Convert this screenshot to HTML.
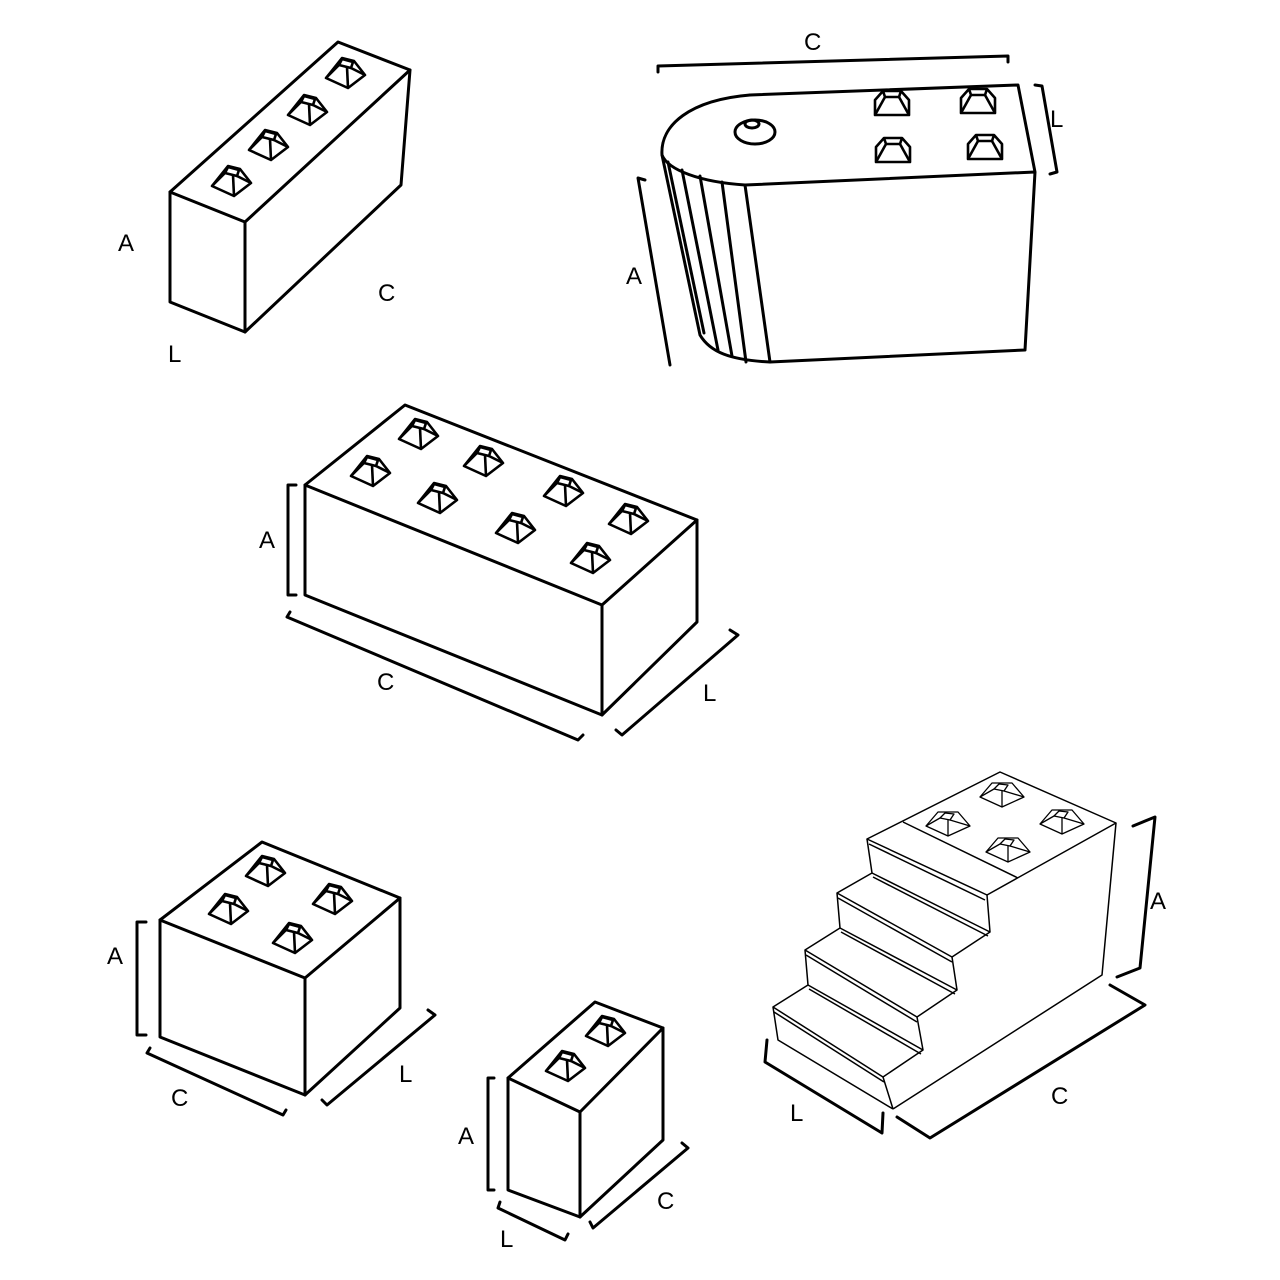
<!DOCTYPE html>
<html><head><meta charset="utf-8"><style>
html,body{margin:0;padding:0;background:#fff;}
svg{display:block}
text{font-family:"Liberation Sans",sans-serif;font-size:24px;fill:#000}
</style></head><body>
<svg width="1280" height="1280" viewBox="0 0 1280 1280" xmlns="http://www.w3.org/2000/svg">
<defs>
<g id="stud" fill="#fff" stroke="#000" stroke-width="2.6" stroke-linejoin="round">
<polygon points="-19,6 -3,-14 9,-11 20,3 3,16"/>
<polygon points="-6,-7 -3,-13 8,-10 6,-4"/>
<line x1="-6" y1="-7" x2="-19" y2="6"/><line x1="6" y1="-4" x2="20" y2="3"/><line x1="2" y1="-5" x2="3" y2="16"/>
</g>
<g id="stud2" fill="#fff" stroke="#000" stroke-width="1.3" stroke-linejoin="round">
<polygon points="-22,4 -10,-10 10,-10 22,4 0,14"/>
<polygon points="-8,-4 -3,-9 6,-8 2,-2"/>
<line x1="-8" y1="-4" x2="-22" y2="4"/><line x1="2" y1="-2" x2="22" y2="4"/><line x1="0" y1="-2" x2="0" y2="14"/>
</g>
<g id="stud3" fill="none" stroke="#000" stroke-width="2.6" stroke-linejoin="round">
<polygon points="-17,-3 -9,-12 9,-12 17,-3 17,12 -17,12"/>
<polyline points="-9,-12 -7,-6 7,-6 9,-12"/>
<line x1="-7" y1="-6" x2="-17" y2="12"/><line x1="7" y1="-6" x2="17" y2="12"/>
</g>
</defs>
<g fill="none" stroke="#000" stroke-width="3" stroke-linejoin="round" stroke-linecap="round">
<!-- block 1 -->
<polygon points="170,192 245,222 245,332 170,302"/>
<polyline points="170,192 338,42 410,70 245,222"/>
<polyline points="410,70 401,185 245,332"/>
<!-- block 2 -->
<path d="M750,95 L1018,85 L1035,172 L745,185 M1035,172 L1025,350 L770,362 L745,185"/>
<path d="M750,95 C690,100 660,125 662,155 C668,170 700,182 745,185"/>
<path d="M662,155 L700,335 C710,352 730,360 770,362"/>
<path d="M668,162 L704,333 M682,170 L718,350 M700,176 L732,356 M722,182 L746,362"/>
<path d="M658,72 L658,66 L1008,56 L1008,62"/>
<path d="M1035,85 L1042,86 L1057,172 L1050,174"/>
<path d="M645,180 L638,178 L670,365"/>
<ellipse cx="755" cy="132" rx="20" ry="12"/>
<ellipse cx="752" cy="124" rx="7" ry="4"/>
<!-- block 3 -->
<polygon points="305,485 602,605 602,715 305,595"/>
<polyline points="305,485 405,405 697,520 602,605"/>
<polyline points="697,520 697,622 602,715"/>
<polyline points="296,485 288,485 288,595 296,595"/>
<polyline points="290,612 287,617 578,740 583,735"/>
<polyline points="616,730 622,735 738,635 730,630"/>
<!-- block 4 -->
<polygon points="160,920 305,978 305,1095 160,1037"/>
<polyline points="160,920 262,842 400,898 305,978"/>
<polyline points="400,898 400,1008 305,1095"/>
<polyline points="146,922 137,922 137,1035 146,1035"/>
<polyline points="150,1048 147,1053 283,1115 286,1110"/>
<polyline points="322,1100 327,1105 435,1015 428,1010"/>
<!-- block 5 -->
<polygon points="508,1078 580,1112 580,1217 508,1190"/>
<polyline points="508,1078 595,1002 663,1028 580,1112"/>
<polyline points="663,1028 663,1140 580,1217"/>
<polyline points="494,1078 488,1078 488,1190 494,1190"/>
<polyline points="500,1202 498,1208 565,1240 568,1234"/>
<polyline points="590,1222 593,1228 688,1148 682,1143"/>
<!-- stairs dims -->
<polyline points="1133,826 1155,817 1140,968 1117,977"/>
<polyline points="1110,985 1145,1005 930,1138 897,1117"/>
<polyline points="767,1040 765,1062 882,1133 883,1113"/>
</g>
<!-- stairs -->
<g fill="none" stroke="#000" stroke-width="1.5" stroke-linejoin="round">
<polygon points="867,839 1000,772 1116,823 987,895"/>
<line x1="903" y1="822" x2="1018" y2="878"/>
<polyline points="1116,823 1102,975 893,1109"/>
<polyline points="987,895 990,932 952,957 957,990 917,1017 923,1050 883,1077 893,1109"/>
<polyline points="867,839 872,873 837,893 840,928 805,950 808,985 773,1007 778,1040 893,1109"/>
<line x1="872" y1="873" x2="990" y2="932"/>
<line x1="837" y1="893" x2="952" y2="957"/>
<line x1="840" y1="928" x2="957" y2="990"/>
<line x1="805" y1="950" x2="917" y2="1017"/>
<line x1="808" y1="985" x2="923" y2="1050"/>
<line x1="773" y1="1007" x2="883" y2="1077"/>
<line x1="869" y1="844" x2="985" y2="900"/>
<line x1="873" y1="877" x2="988" y2="936"/>
<line x1="838" y1="898" x2="952" y2="962"/>
<line x1="841" y1="932" x2="955" y2="994"/>
<line x1="806" y1="955" x2="917" y2="1022"/>
<line x1="809" y1="989" x2="921" y2="1054"/>
<line x1="774" y1="1012" x2="884" y2="1082"/>
</g>
<use href="#stud2" x="1002" y="793"/><use href="#stud2" x="948" y="822"/>
<use href="#stud2" x="1062" y="820"/><use href="#stud2" x="1008" y="848"/>
<use href="#stud" x="231" y="180"/><use href="#stud" x="268" y="144"/>
<use href="#stud" x="307" y="109"/><use href="#stud" x="345" y="72"/>
<use href="#stud" x="418" y="433"/><use href="#stud" x="370" y="470"/>
<use href="#stud" x="483" y="460"/><use href="#stud" x="437" y="497"/>
<use href="#stud" x="563" y="490"/><use href="#stud" x="515" y="527"/>
<use href="#stud" x="628" y="518"/><use href="#stud" x="590" y="557"/>
<use href="#stud" x="265" y="870"/><use href="#stud" x="228" y="908"/>
<use href="#stud" x="332" y="898"/><use href="#stud" x="292" y="937"/>
<use href="#stud" x="605" y="1030"/><use href="#stud" x="565" y="1065"/>
<use href="#stud3" x="892" y="103"/><use href="#stud3" x="978" y="101"/>
<use href="#stud3" x="893" y="150"/><use href="#stud3" x="985" y="147"/>
<text x="118" y="251">A</text><text x="378" y="301">C</text><text x="168" y="362">L</text>
<text x="804" y="50">C</text><text x="1050" y="127">L</text><text x="626" y="284">A</text>
<text x="259" y="548">A</text><text x="377" y="690">C</text><text x="703" y="701">L</text>
<text x="107" y="964">A</text><text x="171" y="1106">C</text><text x="399" y="1082">L</text>
<text x="458" y="1144">A</text><text x="500" y="1247">L</text><text x="657" y="1209">C</text>
<text x="1150" y="909">A</text><text x="1051" y="1104">C</text><text x="790" y="1121">L</text>
</svg>
</body></html>
